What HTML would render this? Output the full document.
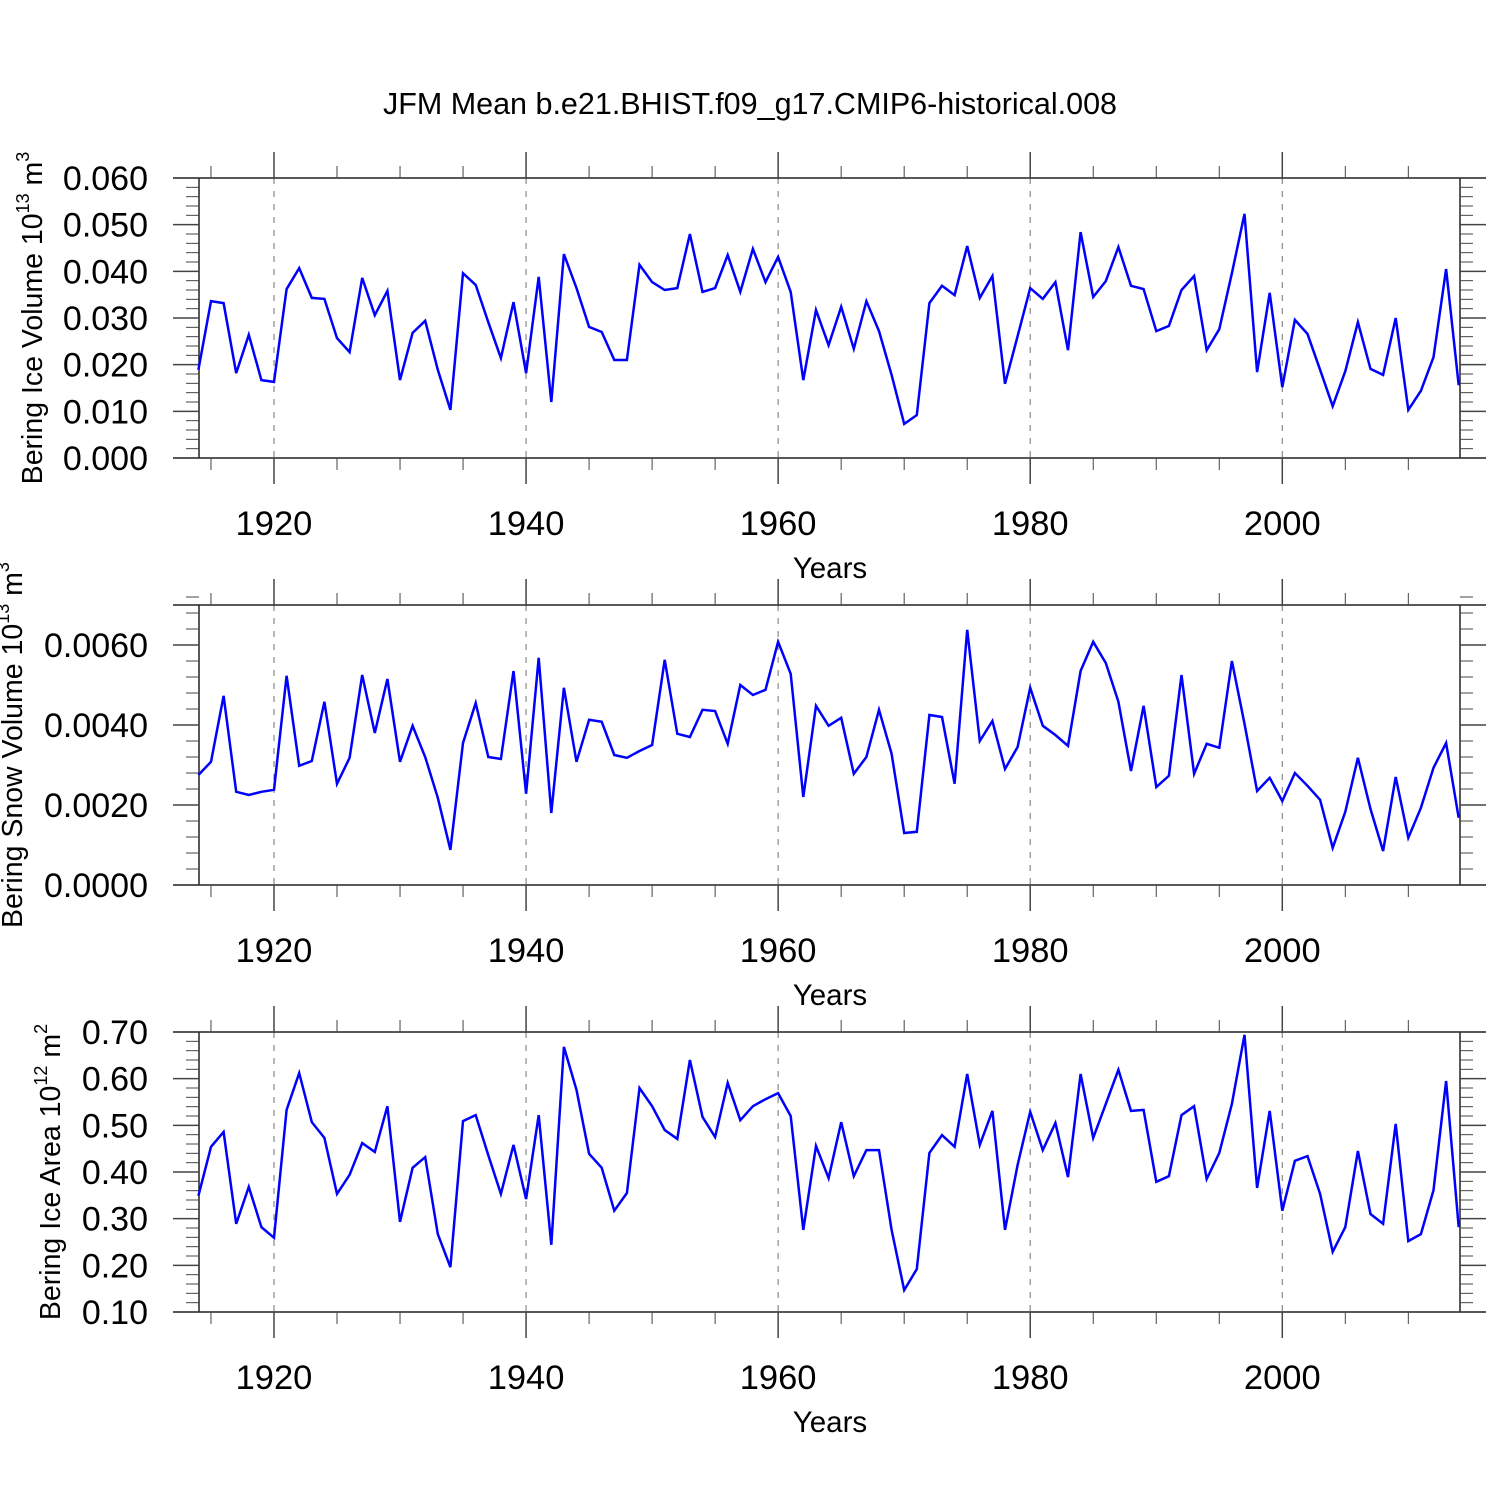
<!DOCTYPE html>
<html><head><meta charset="utf-8"><style>
html,body{margin:0;padding:0;background:#fff}
svg{display:block;font-family:"Liberation Sans",sans-serif}
</style></head><body>
<svg id="chart" width="1500" height="1500" viewBox="0 0 1500 1500" xmlns="http://www.w3.org/2000/svg">
<rect width="1500" height="1500" fill="#fff"/>
<text x="750" y="114" font-size="30.5" text-anchor="middle">JFM Mean b.e21.BHIST.f09_g17.CMIP6-historical.008</text>
</svg>
<script>
const startYear = 1914;
const iceVolume = [0.0189,0.0336,0.0332,0.0182,0.0264,0.0167,0.0163,0.0362,0.0407,0.0343,0.0341,0.0257,0.0227,0.0386,0.0306,0.0358,0.0167,0.0268,0.0294,0.0189,0.0103,0.0396,0.0371,0.0291,0.0214,0.0334,0.0182,0.0388,0.0120,0.0437,0.0364,0.0281,0.0270,0.0210,0.0210,0.0414,0.0377,0.0360,0.0364,0.0480,0.0356,0.0364,0.0435,0.0356,0.0448,0.0377,0.0431,0.0356,0.0167,0.0317,0.0242,0.0324,0.0234,0.0336,0.0272,0.0178,0.0073,0.0092,0.0332,0.0369,0.0349,0.0454,0.0343,0.0390,0.0159,0.0261,0.0364,0.0341,0.0377,0.0231,0.0484,0.0345,0.0379,0.0452,0.0369,0.0362,0.0272,0.0283,0.0360,0.0390,0.0231,0.0276,0.0396,0.0523,0.0184,0.0354,0.0152,0.0296,0.0266,0.0189,0.0111,0.0186,0.0291,0.0191,0.0178,0.0300,0.0103,0.0144,0.0216,0.0405,0.0156];
const snowVolume = [0.00275,0.00308,0.00473,0.00233,0.00225,0.00233,0.00238,0.00523,0.00298,0.00310,0.00458,0.00253,0.00318,0.00525,0.00380,0.00515,0.00308,0.00398,0.00320,0.00218,0.00088,0.00355,0.00455,0.00320,0.00315,0.00535,0.00228,0.00568,0.00180,0.00493,0.00308,0.00413,0.00408,0.00325,0.00318,0.00335,0.00350,0.00563,0.00378,0.00370,0.00438,0.00435,0.00353,0.00500,0.00475,0.00488,0.00608,0.00528,0.00220,0.00448,0.00398,0.00418,0.00278,0.00320,0.00438,0.00328,0.00130,0.00133,0.00425,0.00420,0.00253,0.00638,0.00360,0.00410,0.00290,0.00345,0.00493,0.00398,0.00375,0.00348,0.00535,0.00608,0.00555,0.00458,0.00285,0.00448,0.00245,0.00273,0.00525,0.00278,0.00353,0.00343,0.00560,0.00403,0.00235,0.00268,0.00210,0.00280,0.00248,0.00213,0.00093,0.00183,0.00318,0.00190,0.00085,0.00270,0.00118,0.00193,0.00293,0.00355,0.00168];
const iceArea = [0.349,0.454,0.486,0.289,0.368,0.282,0.259,0.533,0.612,0.507,0.473,0.353,0.394,0.462,0.443,0.541,0.293,0.409,0.432,0.267,0.196,0.509,0.522,0.436,0.353,0.458,0.342,0.522,0.244,0.668,0.576,0.439,0.409,0.317,0.355,0.580,0.541,0.490,0.471,0.640,0.518,0.475,0.591,0.511,0.541,0.556,0.569,0.520,0.276,0.456,0.387,0.507,0.391,0.447,0.447,0.276,0.147,0.192,0.441,0.479,0.454,0.610,0.458,0.531,0.276,0.415,0.529,0.447,0.505,0.389,0.610,0.473,0.546,0.619,0.531,0.533,0.379,0.391,0.522,0.541,0.385,0.441,0.546,0.694,0.366,0.531,0.317,0.424,0.434,0.353,0.229,0.282,0.445,0.310,0.289,0.503,0.252,0.267,0.361,0.595,0.282];
const xTickYears = [1920,1940,1960,1980,2000];
const iceVolTicks = ["0.000","0.010","0.020","0.030","0.040","0.050","0.060"];
const snowTicks = ["0.0000","0.0020","0.0040","0.0060"];
const areaTicks = ["0.10","0.20","0.30","0.40","0.50","0.60","0.70"];

const NS="http://www.w3.org/2000/svg";
const svg=document.getElementById('chart');
function mk(tag,attrs,parent){const e=document.createElementNS(NS,tag);for(const k in attrs)e.setAttribute(k,attrs[k]);(parent||svg).appendChild(e);return e;}
const X0=199,X1=1460,Y0=1914.05,Y1=2014.1;
function xs(y){return X0+(y-Y0)/(Y1-Y0)*(X1-X0);}

function panel(name,top,bottom,ymin,ymax,major,nminor,ticks,data,title,titleX){
  const g=mk('g',{});
  
  
  const ys=v=>bottom-(v-ymin)/(ymax-ymin)*(bottom-top);
  xTickYears.forEach(yr=>{const l=mk('line',{x1:xs(yr),x2:xs(yr),y1:top,y2:bottom,stroke:'#888','stroke-width':1.2,'stroke-dasharray':'6,7'},g);
    });
  mk('line',{x1:173,x2:1486,y1:top,y2:top,stroke:'#222','stroke-width':1.5},g);
  mk('line',{x1:173,x2:1486,y1:bottom,y2:bottom,stroke:'#222','stroke-width':1.5},g);
  mk('line',{x1:X0,x2:X0,y1:top,y2:bottom,stroke:'#222','stroke-width':1.5},g);
  mk('line',{x1:X1,x2:X1,y1:top,y2:bottom,stroke:'#222','stroke-width':1.5},g);
  for(let yr=1915;yr<=2010;yr+=5){const x=xs(yr);const maj=yr%20===0;const L=maj?26:12;
    mk('line',{x1:x,x2:x,y1:top-L,y2:top,stroke:'#444','stroke-width':maj?1.5:1},g);
    mk('line',{x1:x,x2:x,y1:bottom,y2:bottom+L,stroke:'#444','stroke-width':maj?1.5:1},g);}
  xTickYears.forEach(yr=>{const t=mk('text',{x:xs(yr),y:bottom+77,'font-size':34.5,'text-anchor':'middle'},g);t.textContent=yr;
    });
  const xt=mk('text',{x:830,y:bottom+120,'font-size':29.5,'text-anchor':'middle'},g);xt.textContent='Years';
  
  const step=major/nminor;const n=Math.round((ymax-ymin)/step);
  for(let i=0;i<=n;i++){const y=ys(ymin+i*step);const maj=i%nminor===0;const L=maj?26:13;
    mk('line',{x1:X0-L,x2:X0,y1:y,y2:y,stroke:'#444','stroke-width':maj?1.5:1},g);
    mk('line',{x1:X1,x2:X1+L,y1:y,y2:y,stroke:'#444','stroke-width':maj?1.5:1},g);}
  ticks.forEach(s=>{const t=mk('text',{x:148,y:ys(parseFloat(s))+12,'font-size':34,'text-anchor':'end'},g);t.textContent=s;
    });
  const cy=(top+bottom)/2;
  const tt=mk('text',{x:titleX,y:cy,'font-size':28.5,'text-anchor':'middle',transform:`rotate(-90 ${titleX} ${cy})`},g);
  tt.innerHTML=title;
  
  const pts=data.map((v,i)=>xs(startYear+i).toFixed(1)+','+ys(v).toFixed(1)).join(' ');
  const pl=mk('polyline',{points:pts,fill:'none',stroke:'#0000ff','stroke-width':2.5,'stroke-linejoin':'miter'},g);
  
}
panel('ice-volume',178,458,0,0.06,0.01,5,iceVolTicks,iceVolume,'Bering Ice Volume 10<tspan dy="-13" font-size="18">13</tspan><tspan dy="13"> m</tspan><tspan dy="-13" font-size="18">3</tspan>',42);
panel('snow-volume',605,885,0,0.007,0.002,5,snowTicks,snowVolume,'Bering Snow Volume 10<tspan dy="-13" font-size="18">13</tspan><tspan dy="13"> m</tspan><tspan dy="-13" font-size="18">3</tspan>',22);
panel('ice-area',1032,1312,0.1,0.7,0.1,5,areaTicks,iceArea,'Bering Ice Area 10<tspan dy="-13" font-size="18">12</tspan><tspan dy="13"> m</tspan><tspan dy="-13" font-size="18">2</tspan>',60);
</script>
</body></html>
